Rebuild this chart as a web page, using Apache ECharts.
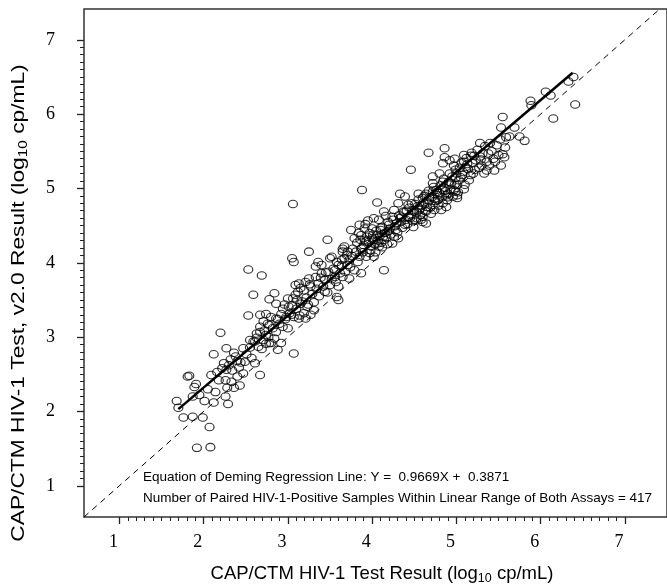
<!DOCTYPE html>
<html>
<head>
<meta charset="utf-8">
<script src="https://cdn.jsdelivr.net/npm/echarts@6/dist/echarts.min.js"></script>
<style>html,body{margin:0;padding:0;background:#fff}#c{width:667px;height:586px}</style>
</head>
<body>
<div id="c"></div>
<script>
// ---- data (log10 cp/mL) ----
const xVals = [2.20,2.12,2.27,2.36,2.47,2.61,2.67,2.74,2.80,2.77,2.49,2.40,2.32,2.24,2.16,2.09,2.27,2.42,2.47,2.61,2.67,2.40,2.26,2.18,1.81,1.83,1.91,1.89,1.95,2.05,2.14,2.28,2.36,2.43,2.33,1.68,1.70,1.87,2.01,2.12,2.26,2.29,1.76,1.87,1.99,2.07,1.92,2.08,
3.06,3.47,3.75,3.79,3.25,3.05,3.07,2.53,2.69,3.36,3.40,3.50,3.58,3.65,3.71,3.81,3.85,3.67,3.56,3.48,3.40,3.33,3.25,3.21,3.13,3.09,3.15,3.27,3.36,3.44,3.50,3.60,3.73,3.79,3.87,3.71,3.33,3.44,3.58,3.60,3.09,3.11,3.00,2.84,2.78,2.59,2.86,2.96,3.05,3.15,3.23,3.31,3.27,3.19,3.21,3.13,3.07,3.02,2.98,2.92,2.86,2.80,2.74,2.67,2.53,2.71,2.78,2.67,2.90,3.00,2.86,2.74,2.84,2.92,2.78,2.71,2.63,2.59,2.88,3.07,2.65,
4.67,4.86,4.84,4.92,4.97,4.46,4.72,4.80,4.92,4.99,5.03,3.88,4.06,4.33,4.39,4.55,4.60,4.72,4.78,4.84,4.90,4.97,5.01,4.78,4.84,4.74,4.82,4.31,4.43,4.49,4.57,4.64,4.37,4.26,4.14,4.24,4.33,4.43,4.53,4.60,4.49,4.39,4.29,4.20,4.02,3.95,3.85,3.91,4.00,4.10,4.18,4.28,4.06,3.97,3.87,3.91,4.02,4.14,4.24,4.26,3.67,3.77,3.87,3.98,4.08,3.65,3.93,4.02,3.52,3.64,3.73,3.83,3.60,4.14,3.56,3.65,
5.55,5.53,5.69,5.59,5.63,5.75,5.81,5.28,5.40,4.86,5.09,5.17,5.28,5.38,5.36,5.46,5.55,5.57,5.53,4.98,5.09,5.19,5.30,5.11,5.22,5.36,5.45,5.07,5.17,5.15,4.99,4.72,4.84,4.92,5.01,5.09,4.99,5.01,4.64,4.76,4.88,4.68,4.72,4.88,4.60,4.64,
6.39,6.33,6.06,6.12,6.41,5.88,5.89,6.15,
3.82,3.86,3.90,3.94,3.96,3.99,4.01,4.03,4.05,4.07,4.09,4.11,4.12,4.15,4.17,4.19,4.21,4.22,4.25,4.27,4.30,4.32,4.34,4.36,4.38,4.40,4.42,4.44,4.46,4.48,4.12,4.04,3.97,4.18,4.31,3.84,3.92,4.08,4.16,3.89,
4.51,4.53,4.55,4.57,4.59,4.62,4.63,4.66,4.67,4.69,4.71,4.73,4.75,4.77,4.79,4.81,4.83,4.85,4.87,4.89,4.91,4.93,4.95,4.96,4.98,5.00,5.02,5.04,4.70,4.58,
5.06,5.08,5.10,5.12,5.14,5.18,5.20,5.23,5.25,5.27,5.31,5.33,5.34,5.39,5.42,5.44,5.48,5.50,5.52,5.58,
2.94,2.97,3.01,3.04,3.06,3.10,3.12,3.14,3.17,3.19,3.22,3.24,3.26,3.29,3.31,3.34,3.37,3.39,3.42,3.45,3.47,3.52,3.54,3.57,3.62,3.64,3.68,3.70,3.74,3.76,
2.22,2.30,2.34,2.38,2.44,2.51,2.55,2.57,2.63,2.69,2.72,2.76,2.82,2.88,2.94,2.55,
4.35,4.41,4.45,4.50,4.54,4.56,4.61,4.65,4.68,4.74,4.80,4.86,4.90,4.94,4.47,4.52,
3.88,3.93,4.00,4.06,4.10,4.13,4.20,5.13,5.21,5.29,5.05];
const yVals = [3.06,2.77,2.85,2.79,2.85,2.94,3.07,2.91,2.92,3.00,2.67,2.68,2.70,2.65,2.53,2.49,2.56,2.59,2.51,2.65,2.49,2.47,2.42,2.42,2.47,2.48,2.37,2.33,2.22,2.30,2.26,2.32,2.32,2.35,2.40,2.14,2.05,2.20,2.14,2.12,2.20,2.10,1.92,1.93,1.92,1.79,1.51,1.52,
4.79,4.31,4.44,4.33,4.15,4.06,4.01,3.91,3.83,4.01,3.97,4.06,4.01,4.19,4.15,4.15,4.08,4.06,3.90,3.88,3.86,3.81,3.79,3.74,3.72,3.70,3.66,3.68,3.72,3.77,3.70,3.68,3.79,3.90,3.86,3.97,3.95,3.61,3.54,3.50,3.57,3.50,3.52,3.59,3.51,3.57,3.45,3.44,3.43,3.45,3.41,3.36,3.30,3.32,3.25,3.25,3.27,3.32,3.27,3.31,3.25,3.27,3.31,3.30,3.29,3.21,3.16,3.14,3.18,3.12,3.07,3.03,2.98,2.92,2.92,2.96,3.05,2.94,2.83,2.78,2.87,
5.48,5.42,5.34,5.38,5.31,5.25,5.16,5.20,5.20,5.25,5.11,4.98,4.81,4.93,4.89,4.93,4.87,4.96,4.91,4.98,4.93,4.98,4.87,4.84,4.80,4.71,4.71,4.80,4.78,4.71,4.73,4.69,4.69,4.71,4.69,4.62,4.60,4.62,4.60,4.55,4.48,4.51,4.53,4.51,4.60,4.57,4.51,4.46,4.46,4.44,4.42,4.44,4.37,4.40,4.37,4.31,4.31,4.31,4.26,4.35,4.22,4.19,4.19,4.17,4.22,4.15,4.08,4.08,4.08,4.04,4.04,4.01,3.97,3.90,3.81,3.81,
5.96,5.82,5.82,5.69,5.70,5.70,5.64,5.61,5.61,5.54,5.45,5.44,5.43,5.47,5.36,5.36,5.46,5.42,5.31,5.40,5.36,5.34,5.31,5.29,5.25,5.24,5.24,5.18,5.18,5.11,5.14,5.07,5.09,5.05,5.05,4.99,4.96,4.91,4.93,4.98,4.91,4.84,4.78,4.75,4.62,4.53,
6.50,6.44,6.30,6.25,6.13,6.18,6.12,5.94,
4.27,4.31,4.24,4.35,4.28,4.22,4.38,4.25,4.43,4.30,4.36,4.27,4.48,4.40,4.34,4.55,4.46,4.38,4.58,4.49,4.41,4.64,4.55,4.47,4.68,4.58,4.52,4.74,4.64,4.56,4.21,4.14,4.13,4.25,4.33,4.40,4.52,4.58,4.63,4.14,
4.79,4.68,4.85,4.64,4.77,4.90,4.70,4.81,4.97,4.74,4.88,5.02,4.83,4.95,4.77,5.04,4.88,5.13,4.97,4.84,5.09,4.99,5.16,4.89,5.05,5.20,4.95,5.28,4.66,4.58,
5.35,5.22,5.05,5.41,5.26,5.48,5.20,5.38,5.52,5.28,5.47,5.20,5.57,5.31,5.50,5.40,5.58,5.45,5.66,5.55,
3.38,3.24,3.41,3.30,3.52,3.38,3.61,3.29,3.48,3.63,3.53,3.44,3.71,3.58,3.47,3.65,3.55,3.80,3.68,3.87,3.60,3.78,3.92,3.74,3.86,3.96,3.88,4.10,3.94,4.09,
2.58,2.62,2.55,2.74,2.66,2.77,2.86,2.72,2.99,2.84,3.09,3.18,3.12,3.24,3.14,2.96,
4.62,4.70,4.60,4.69,4.76,4.71,4.81,4.75,4.88,4.86,4.94,5.01,4.88,5.07,4.80,4.57,
4.20,4.29,4.33,4.26,4.47,4.35,4.43,5.33,5.44,5.39,5.15];
// Deming regression line Y = 0.9669X + 0.3871, drawn over the data range
const regX = [1.70, 6.38];
const regY = [2.031, 6.556];
// identity line
const idX = [0.58, 7.5];
const idY = [0.58, 7.5];
const majorTicks = [1, 2, 3, 4, 5, 6, 7];
const minorTicks = [];
for (let i = 10; i <= 70; i++) minorTicks.push(i / 10);
const xTitle = ['CAP/CTM HIV-1 Test Result (log', '10', ' cp/mL)'];
const yTitle = ['CAP/CTM HIV-1 Test, v2.0 Result (log', '10', ' cp/mL)'];
const note1 = 'Equation of Deming Regression Line: Y =  0.9669X +  0.3871';
const note2 = 'Number of Paired HIV-1-Positive Samples Within Linear Range of Both Assays = 417';

const pts = xVals.map((x, i) => [x, yVals[i]]);
const XMIN = 0.58, XMAX = 7.5, YMIN = 0.58, YMAX = 7.414;
const G = { left: 84, top: 9, width: 595, height: 508 };

const chart = echarts.init(document.getElementById('c'), null, { renderer: 'canvas' });
const serif = 'Liberation Serif, Times New Roman, serif';
const sans = 'Liberation Sans, Arial, sans-serif';
chart.setOption({
  animation: false,
  backgroundColor: '#fff',
  grid: [
    Object.assign({ show: true, borderColor: '#333', borderWidth: 1.5, backgroundColor: 'transparent' }, G),
    Object.assign({ show: false }, G)
  ],
  xAxis: [
    { type: 'value', gridIndex: 0, min: XMIN, max: XMAX, position: 'bottom',
      axisLine: { show: false }, splitLine: { show: false },
      axisTick: { show: true, length: 7, lineStyle: { color: '#222', width: 1.3 }, customValues: majorTicks },
      axisLabel: { show: true, customValues: majorTicks, margin: 16, color: '#000', fontFamily: serif, fontSize: 18, padding: [0, 12, 0, 0] } },
    { type: 'value', gridIndex: 1, min: XMIN, max: XMAX, position: 'bottom',
      axisLine: { show: false }, splitLine: { show: false }, axisLabel: { show: false },
      axisTick: { show: true, length: 4, lineStyle: { color: '#222', width: 1 }, customValues: minorTicks } }
  ],
  yAxis: [
    { type: 'value', gridIndex: 0, min: YMIN, max: YMAX, position: 'left',
      axisLine: { show: false }, splitLine: { show: false },
      axisTick: { show: true, length: 7, lineStyle: { color: '#222', width: 1.3 }, customValues: majorTicks },
      axisLabel: { show: true, customValues: majorTicks, margin: 29, color: '#000', fontFamily: serif, fontSize: 18 } },
    { type: 'value', gridIndex: 1, min: YMIN, max: YMAX, position: 'left',
      axisLine: { show: false }, splitLine: { show: false }, axisLabel: { show: false },
      axisTick: { show: true, length: 4, lineStyle: { color: '#222', width: 1 }, customValues: minorTicks } }
  ],
  series: [
    { type: 'line', xAxisIndex: 0, yAxisIndex: 0, data: idX.map((x, i) => [x, idY[i]]), symbol: 'none',
      lineStyle: { color: '#000', width: 1, type: [6, 5] }, clip: true, z: 1 },
    { type: 'scatter', xAxisIndex: 0, yAxisIndex: 0, data: pts, symbol: 'circle', symbolSize: [9, 7.5],
      itemStyle: { color: 'rgba(0,0,0,0)', borderColor: '#000', borderWidth: 1.1 }, z: 2 },
    { type: 'line', xAxisIndex: 0, yAxisIndex: 0, data: regX.map((x, i) => [x, regY[i]]), symbol: 'none',
      lineStyle: { color: '#000', width: 2.5 }, z: 3 }
  ],
  graphic: [
    { type: 'text', left: 143, top: 470, style: { text: note1, font: '13.5px ' + sans, fill: '#000' } },
    { type: 'text', left: 143, top: 491, style: { text: note2, font: '13.5px ' + sans, fill: '#000' } },
    { type: 'text', x: 382, y: 574, style: {
        text: '{a|' + xTitle[0] + '}{s|' + xTitle[1] + '}{a|' + xTitle[2] + '}',
        align: 'center', verticalAlign: 'middle',
        rich: { a: { font: '18.5px ' + sans, fill: '#000' }, s: { font: '12.5px ' + sans, fill: '#000', padding: [9, 0, 0, 0] } } } },
    { type: 'text', x: 19, y: 303, rotation: Math.PI / 2, scaleX: 1.23, scaleY: 1, style: {
        text: '{a|' + yTitle[0] + '}{s|' + yTitle[1] + '}{a|' + yTitle[2] + '}',
        align: 'center', verticalAlign: 'middle',
        rich: { a: { font: '18.5px ' + sans, fill: '#000' }, s: { font: '12.5px ' + sans, fill: '#000', padding: [9, 0, 0, 0] } } } }
  ]
});
</script>
</body>
</html>
